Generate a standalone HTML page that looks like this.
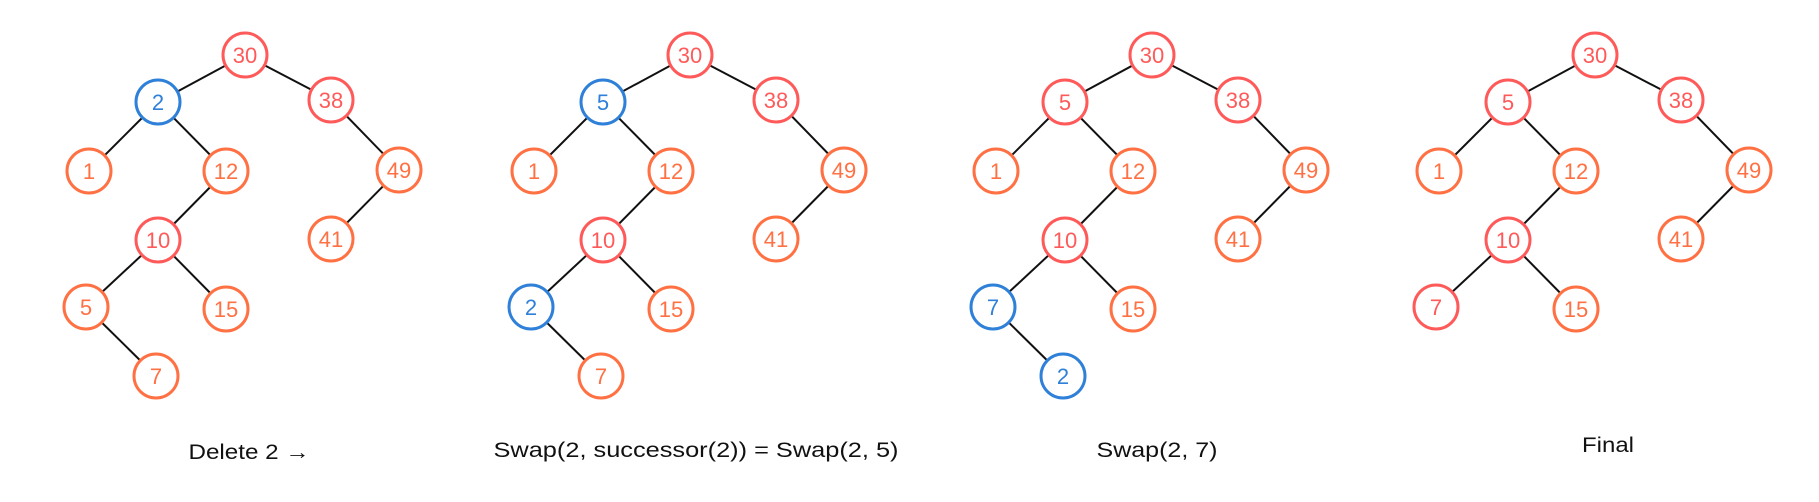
<!DOCTYPE html>
<html><head><meta charset="utf-8"><style>
html,body{margin:0;padding:0;background:#fff;}
svg{display:block;}
text{font-family:"Liberation Sans",sans-serif;}
</style></head><body>
<svg width="1819" height="502" viewBox="0 0 1819 502" xmlns="http://www.w3.org/2000/svg">
<defs>
<g id="edges" stroke="#111" stroke-width="2">
  <line x1="245" y1="55" x2="158" y2="102"/>
  <line x1="245" y1="55" x2="331" y2="100"/>
  <line x1="158" y1="102" x2="89" y2="171"/>
  <line x1="158" y1="102" x2="226" y2="171"/>
  <line x1="331" y1="100" x2="399" y2="170"/>
  <line x1="399" y1="170" x2="331" y2="239"/>
  <line x1="226" y1="171" x2="158" y2="240"/>
  <line x1="158" y1="240" x2="86" y2="307"/>
  <line x1="158" y1="240" x2="226" y2="309"/>
</g>
</defs>
<g font-size="22" text-anchor="middle">
<!-- Panel template function applied manually -->
<!-- Panel 1 offset 0 -->
<g transform="translate(0,0)">
  <use href="#edges"/>
  <line x1="86" y1="307" x2="156" y2="376" stroke="#111" stroke-width="2"/>
  <g stroke-width="3" fill="#fff">
    <circle cx="245" cy="55" r="22" stroke="#FF5A5A"/>
    <circle cx="158" cy="102" r="22" stroke="#2F80D8"/>
    <circle cx="331" cy="100" r="22" stroke="#FF5A5A"/>
    <circle cx="89" cy="171" r="22" stroke="#FF7043"/>
    <circle cx="226" cy="171" r="22" stroke="#FF7043"/>
    <circle cx="399" cy="170" r="22" stroke="#FF7043"/>
    <circle cx="158" cy="240" r="22" stroke="#FF5A5A"/>
    <circle cx="331" cy="239" r="22" stroke="#FF7043"/>
    <circle cx="86" cy="307" r="22" stroke="#FF7043"/>
    <circle cx="226" cy="309" r="22" stroke="#FF7043"/>
    <circle cx="156" cy="376" r="22" stroke="#FF7043"/>
  </g>
  <text x="245" y="63" fill="#FF5A5A">30</text>
  <text x="158" y="110" fill="#2F80D8">2</text>
  <text x="331" y="108" fill="#FF5A5A">38</text>
  <text x="89" y="179" fill="#FF7043">1</text>
  <text x="226" y="179" fill="#FF7043">12</text>
  <text x="399" y="178" fill="#FF7043">49</text>
  <text x="158" y="248" fill="#FF5A5A">10</text>
  <text x="331" y="247" fill="#FF7043">41</text>
  <text x="86" y="315" fill="#FF7043">5</text>
  <text x="226" y="317" fill="#FF7043">15</text>
  <text x="156" y="384" fill="#FF7043">7</text>
  <text x="249" y="459" fill="#111" font-size="21" textLength="121" lengthAdjust="spacingAndGlyphs">Delete 2 →</text>
</g>
<!-- Panel 2 -->
<g transform="translate(445,0)">
  <use href="#edges"/>
  <line x1="86" y1="307" x2="156" y2="376" stroke="#111" stroke-width="2"/>
  <g stroke-width="3" fill="#fff">
    <circle cx="245" cy="55" r="22" stroke="#FF5A5A"/>
    <circle cx="158" cy="102" r="22" stroke="#2F80D8"/>
    <circle cx="331" cy="100" r="22" stroke="#FF5A5A"/>
    <circle cx="89" cy="171" r="22" stroke="#FF7043"/>
    <circle cx="226" cy="171" r="22" stroke="#FF7043"/>
    <circle cx="399" cy="170" r="22" stroke="#FF7043"/>
    <circle cx="158" cy="240" r="22" stroke="#FF5A5A"/>
    <circle cx="331" cy="239" r="22" stroke="#FF7043"/>
    <circle cx="86" cy="307" r="22" stroke="#2F80D8"/>
    <circle cx="226" cy="309" r="22" stroke="#FF7043"/>
    <circle cx="156" cy="376" r="22" stroke="#FF7043"/>
  </g>
  <text x="245" y="63" fill="#FF5A5A">30</text>
  <text x="158" y="110" fill="#2F80D8">5</text>
  <text x="331" y="108" fill="#FF5A5A">38</text>
  <text x="89" y="179" fill="#FF7043">1</text>
  <text x="226" y="179" fill="#FF7043">12</text>
  <text x="399" y="178" fill="#FF7043">49</text>
  <text x="158" y="248" fill="#FF5A5A">10</text>
  <text x="331" y="247" fill="#FF7043">41</text>
  <text x="86" y="315" fill="#2F80D8">2</text>
  <text x="226" y="317" fill="#FF7043">15</text>
  <text x="156" y="384" fill="#FF7043">7</text>
  <text x="251" y="457" fill="#111" font-size="21" textLength="405" lengthAdjust="spacingAndGlyphs">Swap(2, successor(2)) = Swap(2, 5)</text>
</g>
<!-- Panel 3 -->
<g transform="translate(907,0)">
  <use href="#edges"/>
  <line x1="86" y1="307" x2="156" y2="376" stroke="#111" stroke-width="2"/>
  <g stroke-width="3" fill="#fff">
    <circle cx="245" cy="55" r="22" stroke="#FF5A5A"/>
    <circle cx="158" cy="102" r="22" stroke="#FF5A5A"/>
    <circle cx="331" cy="100" r="22" stroke="#FF5A5A"/>
    <circle cx="89" cy="171" r="22" stroke="#FF7043"/>
    <circle cx="226" cy="171" r="22" stroke="#FF7043"/>
    <circle cx="399" cy="170" r="22" stroke="#FF7043"/>
    <circle cx="158" cy="240" r="22" stroke="#FF5A5A"/>
    <circle cx="331" cy="239" r="22" stroke="#FF7043"/>
    <circle cx="86" cy="307" r="22" stroke="#2F80D8"/>
    <circle cx="226" cy="309" r="22" stroke="#FF7043"/>
    <circle cx="156" cy="376" r="22" stroke="#2F80D8"/>
  </g>
  <text x="245" y="63" fill="#FF5A5A">30</text>
  <text x="158" y="110" fill="#FF5A5A">5</text>
  <text x="331" y="108" fill="#FF5A5A">38</text>
  <text x="89" y="179" fill="#FF7043">1</text>
  <text x="226" y="179" fill="#FF7043">12</text>
  <text x="399" y="178" fill="#FF7043">49</text>
  <text x="158" y="248" fill="#FF5A5A">10</text>
  <text x="331" y="247" fill="#FF7043">41</text>
  <text x="86" y="315" fill="#2F80D8">7</text>
  <text x="226" y="317" fill="#FF7043">15</text>
  <text x="156" y="384" fill="#2F80D8">2</text>
  <text x="250" y="457" fill="#111" font-size="21" textLength="121" lengthAdjust="spacingAndGlyphs">Swap(2, 7)</text>
</g>
<!-- Panel 4 -->
<g transform="translate(1350,0)">
  <use href="#edges"/>
  <g stroke-width="3" fill="#fff">
    <circle cx="245" cy="55" r="22" stroke="#FF5A5A"/>
    <circle cx="158" cy="102" r="22" stroke="#FF5A5A"/>
    <circle cx="331" cy="100" r="22" stroke="#FF5A5A"/>
    <circle cx="89" cy="171" r="22" stroke="#FF7043"/>
    <circle cx="226" cy="171" r="22" stroke="#FF7043"/>
    <circle cx="399" cy="170" r="22" stroke="#FF7043"/>
    <circle cx="158" cy="240" r="22" stroke="#FF5A5A"/>
    <circle cx="331" cy="239" r="22" stroke="#FF7043"/>
    <circle cx="86" cy="307" r="22" stroke="#FF5A5A"/>
    <circle cx="226" cy="309" r="22" stroke="#FF7043"/>
  </g>
  <text x="245" y="63" fill="#FF5A5A">30</text>
  <text x="158" y="110" fill="#FF5A5A">5</text>
  <text x="331" y="108" fill="#FF5A5A">38</text>
  <text x="89" y="179" fill="#FF7043">1</text>
  <text x="226" y="179" fill="#FF7043">12</text>
  <text x="399" y="178" fill="#FF7043">49</text>
  <text x="158" y="248" fill="#FF5A5A">10</text>
  <text x="331" y="247" fill="#FF7043">41</text>
  <text x="86" y="315" fill="#FF5A5A">7</text>
  <text x="226" y="317" fill="#FF7043">15</text>
  <text x="258" y="452" fill="#111" font-size="21" textLength="52" lengthAdjust="spacingAndGlyphs">Final</text>
</g>
</g>
</svg>
</body></html>
